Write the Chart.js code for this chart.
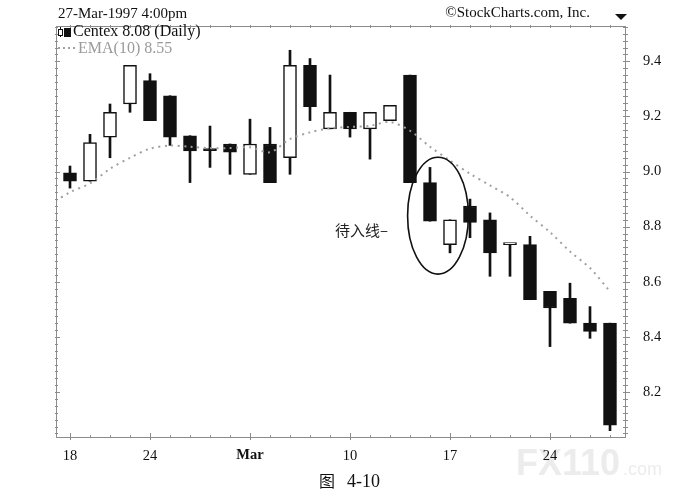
<!DOCTYPE html>
<html>
<head>
<meta charset="utf-8">
<script src="https://cdn.jsdelivr.net/npm/chart.js@4.4.1/dist/chart.umd.min.js"></script>
<style>
  html, body { margin: 0; padding: 0; background: #fff; }
  #wrap { position: relative; width: 695px; height: 503px; }
</style>
</head>
<body>
<div id="wrap"><canvas id="canvas" width="695" height="503"></canvas></div>
<script>
// Centex daily, 18-Feb-1997 .. 27-Mar-1997
var days = ['Feb 18','Feb 19','Feb 20','Feb 21','Feb 24','Feb 25','Feb 26','Feb 27','Feb 28',
  'Mar 3','Mar 4','Mar 5','Mar 6','Mar 7','Mar 10','Mar 11','Mar 12','Mar 13','Mar 14',
  'Mar 17','Mar 18','Mar 19','Mar 20','Mar 21','Mar 24','Mar 25','Mar 26','Mar 27'];
var open  = [8.995, 8.965, 9.125, 9.245, 9.33, 9.275, 9.13, 9.08, 9.10, 8.99, 9.10, 9.05, 9.385, 9.155,
  9.215, 9.155, 9.185, 9.35, 8.96, 8.735, 8.875, 8.825, 8.735, 8.735, 8.565, 8.54, 8.45, 8.45];
var high  = [9.02, 9.135, 9.245, 9.385, 9.355, 9.275, 9.13, 9.165, 9.10, 9.19, 9.16, 9.44, 9.41, 9.35,
  9.215, 9.215, 9.24, 9.35, 9.015, 8.825, 8.90, 8.85, 8.735, 8.765, 8.565, 8.595, 8.51, 8.45];
var low   = [8.94, 8.965, 9.05, 9.215, 9.185, 9.095, 8.96, 9.015, 8.99, 8.99, 8.96, 8.99, 9.185, 9.155,
  9.125, 9.045, 9.185, 8.96, 8.82, 8.705, 8.76, 8.62, 8.62, 8.535, 8.365, 8.45, 8.395, 8.06];
var close = [8.965, 9.105, 9.215, 9.385, 9.185, 9.125, 9.075, 9.076, 9.07, 9.10, 8.96, 9.385, 9.235, 9.215,
  9.155, 9.215, 9.24, 8.96, 8.82, 8.825, 8.815, 8.705, 8.735, 8.535, 8.505, 8.45, 8.42, 8.08];
// EMA(10), first value is 14-Feb (one day before the window)
var ema10 = [8.88, 8.925, 8.957, 9.01, 9.05, 9.083, 9.094, 9.09, 9.085, 9.085, 9.088, 9.07, 9.118, 9.142,
  9.157, 9.162, 9.166, 9.18, 9.148, 9.09, 9.04, 8.992, 8.95, 8.907, 8.84, 8.78, 8.71, 8.65, 8.565];
var emaStart = -1;

var yTicks = [8.2, 8.4, 8.6, 8.8, 9.0, 9.2, 9.4];
var xTickDays = ['Feb 18', 'Feb 24', 'Mar 3', 'Mar 10', 'Mar 17', 'Mar 24'];
var xTickLabels = ['18', '24', 'Mar', '10', '17', '24'];

// annotation (in data units)
var noteText = '待入线–';
var noteAt = { x: 13.25, y: 8.786 };
var ring = { x: 18.4, y: 8.84, rx: 1.52, ry: 0.212 };

var bodies = days.map(function (d, i) { return { x: i, y: [open[i], close[i]] }; });
var wicks = days.map(function (d, i) { return { x: i, y: [low[i], high[i]] }; });
var emaPoints = ema10.map(function (v, i) { return { x: i + emaStart, y: v }; });
function isUp(i) { return close[i] >= open[i]; }

var INK = '#111';
var FRAME = '#8c8c8c';
var SERIF = '"Liberation Serif", "Times New Roman", serif';
var CJK = '"Noto Sans CJK SC", sans-serif';

var framePlugin = {
  id: 'frame',
  beforeDraw: function (chart) {
    var c = chart.ctx;
    c.save();
    c.fillStyle = '#fff';
    c.fillRect(0, 0, chart.width, chart.height);
    // faint watermark
    c.fillStyle = '#ececec';
    c.textBaseline = 'alphabetic';
    c.font = 'bold 36px "Liberation Sans", sans-serif';
    c.fillText('FX110', 516, 475);
    c.font = '18px "Liberation Sans", sans-serif';
    c.fillText('.com', 623, 475);
    c.restore();
  },
  afterDraw: function (chart) {
    var c = chart.ctx;
    var a = chart.chartArea;
    var xs = chart.scales.x, ys = chart.scales.y;
    c.save();

    // frame
    c.strokeStyle = FRAME;
    c.lineWidth = 1;
    c.strokeRect(a.left + 0.5, a.top + 0.5, a.right - a.left, a.bottom - a.top);

    // minor / major ticks on the value sides
    c.beginPath();
    var k0 = Math.ceil(ys.min / 0.025), k1 = Math.floor(ys.max / 0.025);
    for (var k = k0; k <= k1; k++) {
      var py = Math.round(ys.getPixelForValue(k * 0.025)) + 0.5;
      var major = k % 8 === 0;
      c.moveTo(a.right - 2, py); c.lineTo(a.right + (major ? 5 : 3), py);
      c.moveTo(a.left - 1, py); c.lineTo(a.left + (major ? 4 : 2), py);
    }
    // ticks along top and bottom, one per session
    for (var i = 0; i < days.length; i++) {
      var px = Math.round(xs.getPixelForValue(i)) + 0.5;
      var big = xTickDays.indexOf(days[i]) >= 0;
      c.moveTo(px, a.bottom - (big ? 4 : 2)); c.lineTo(px, a.bottom + (big ? 3 : 1));
      c.moveTo(px, a.top - 1); c.lineTo(px, a.top + 2);
    }
    c.stroke();

    // legend
    c.fillStyle = INK;
    c.strokeStyle = INK;
    c.lineWidth = 1;
    c.beginPath(); c.moveTo(60.5, 27); c.lineTo(60.5, 37); c.stroke();
    c.fillStyle = '#fff';
    c.fillRect(58.5, 29.5, 4, 6);
    c.strokeRect(58.5, 29.5, 4, 6);
    c.fillStyle = INK;
    c.fillRect(64, 28, 7, 9);
    c.font = '16px ' + SERIF;
    c.textBaseline = 'alphabetic';
    c.textAlign = 'left';
    c.fillText('Centex 8.08 (Daily)', 73, 36);
    c.strokeStyle = '#a0a0a0';
    c.lineWidth = 2;
    c.setLineDash([2, 3]);
    c.beginPath(); c.moveTo(58, 48); c.lineTo(76, 48); c.stroke();
    c.setLineDash([]);
    c.fillStyle = '#9a9a9a';
    c.fillText('EMA(10) 8.55', 78, 53);

    // ring around the thrusting pattern
    var cx = xs.getPixelForValue(ring.x), cy = ys.getPixelForValue(ring.y);
    var rx = Math.abs(xs.getPixelForValue(ring.x + ring.rx) - cx);
    var ry = Math.abs(ys.getPixelForValue(ring.y + ring.ry) - cy);
    c.strokeStyle = INK;
    c.lineWidth = 1.6;
    c.beginPath();
    c.ellipse(cx, cy, rx, ry, 0, 0, Math.PI * 2);
    c.stroke();

    c.fillStyle = '#222';
    c.font = '15px ' + CJK;
    c.textBaseline = 'middle';
    c.fillText(noteText, xs.getPixelForValue(noteAt.x), ys.getPixelForValue(noteAt.y));

    // header
    c.fillStyle = INK;
    c.textBaseline = 'alphabetic';
    c.font = '15px ' + SERIF;
    c.fillText('27-Mar-1997 4:00pm', 58, 18);
    c.textAlign = 'right';
    c.fillText('\u00A9StockCharts.com, Inc.', 590, 17);
    c.beginPath();
    c.moveTo(615, 14); c.lineTo(627, 14); c.lineTo(621, 20); c.closePath();
    c.fill();

    // caption
    c.textAlign = 'left';
    c.font = '16px ' + CJK;
    c.fillText('图', 319, 487);
    c.font = '18px ' + SERIF;
    c.fillText('4-10', 347, 487);
    c.restore();
  }
};

var ctx = document.getElementById('canvas').getContext('2d');
var myChart = new Chart(ctx, {
  type: 'bar',
  data: {
    datasets: [
      {
        type: 'line',
        label: 'EMA(10)',
        data: emaPoints,
        borderColor: '#a0a0a0',
        borderWidth: 2,
        borderDash: [2, 4.5],
        pointRadius: 0,
        tension: 0.3,
        order: 0,
      },
      {
        label: 'Body',
        data: bodies,
        backgroundColor: function (c) { return isUp(c.dataIndex) ? '#fff' : INK; },
        borderColor: INK,
        borderWidth: 1.5,
        borderSkipped: false,
        barThickness: 13,
        minBarLength: 2,
        grouped: false,
        order: 1,
      },
      {
        label: 'Wick',
        data: wicks,
        backgroundColor: INK,
        borderWidth: 0,
        barThickness: 2,
        grouped: false,
        order: 2,
      },
    ],
  },
  options: {
    responsive: false,
    animation: false,
    layout: { padding: { left: 56, top: 26, right: 0, bottom: 0 } },
    plugins: {
      legend: { display: false },
      tooltip: { enabled: false },
    },
    scales: {
      x: {
        type: 'linear',
        min: -0.7,
        max: 27.75,
        offset: false,
        grid: { display: false },
        border: { display: false },
        afterBuildTicks: function (s) {
          s.ticks = xTickDays.map(function (d) { return { value: days.indexOf(d) }; });
        },
        afterFit: function (s) { s.height = 66; },
        ticks: {
          padding: 2,
          color: INK,
          maxRotation: 0,
          autoSkip: false,
          font: function (c) {
            return { family: SERIF, size: 14.5, weight: c.index === 2 ? 'bold' : 'normal' };
          },
          callback: function (v, i) { return xTickLabels[i]; },
        },
      },
      y: {
        position: 'right',
        min: 8.037,
        max: 9.528,
        grid: { display: false },
        border: { display: false },
        afterBuildTicks: function (s) {
          s.ticks = yTicks.map(function (v) { return { value: v }; });
        },
        afterFit: function (s) { s.width = 70; },
        ticks: {
          padding: 10,
          color: INK,
          font: { family: SERIF, size: 14.5 },
          callback: function (v) { return v.toFixed(1); },
        },
      },
    },
  },
  plugins: [framePlugin],
});
</script>
</body>
</html>
